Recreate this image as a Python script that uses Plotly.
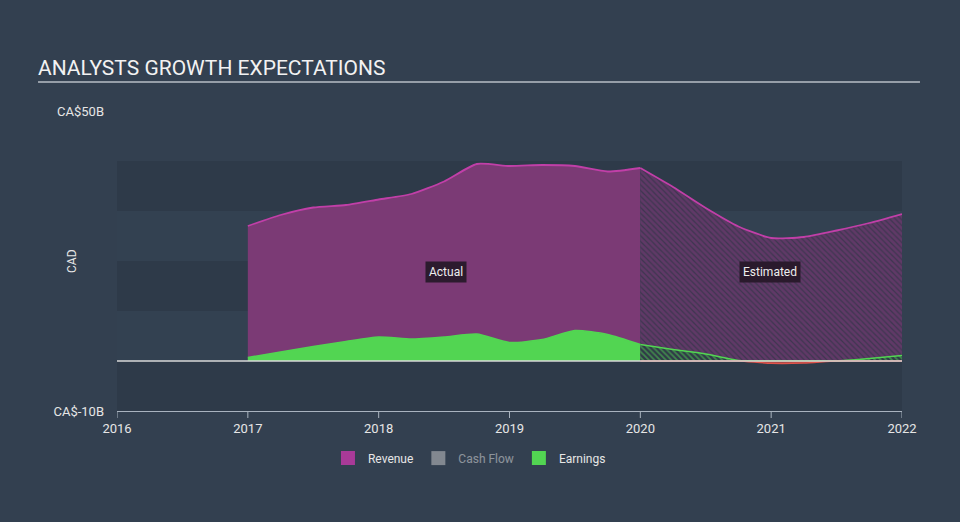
import numpy as np
import plotly.graph_objects as go

# ---------------- data (CA$ billions) ----------------
rev_act_x = [2017.0, 2017.25, 2017.5, 2017.75, 2018.0, 2018.25, 2018.5, 2018.75,
             2019.0, 2019.25, 2019.5, 2019.75, 2020.0]
rev_act_y = [27.0, 29.2, 30.7, 31.2, 32.3, 33.4, 35.9, 39.4,
             39.0, 39.2, 39.0, 37.9, 38.6]

rev_est_x = [2020.0, 2020.25, 2020.5, 2020.75, 2021.0, 2021.25, 2021.5, 2021.75, 2022.0]
rev_est_y = [38.6, 34.8, 30.6, 26.9, 24.6, 24.8, 26.1, 27.6, 29.4]

earn_act_x = rev_act_x
earn_act_y = [0.7, 1.8, 2.9, 3.9, 4.8, 4.4, 4.8, 5.4,
              3.7, 4.3, 6.1, 5.3, 3.3]

earn_est_x = rev_est_x
earn_est_y = [3.3, 2.3, 1.4, 0.1, -0.45, -0.4, 0.0, 0.5, 1.1]

x_ticks = [2016, 2017, 2018, 2019, 2020, 2021, 2022]
y_tickvals = [-10, 50]
y_ticktext = ["CA$-10B", "CA$50B"]

# ---------------- styling ----------------
BG = "#334050"
BAND_DARK = "#2e3a49"
BAND_LIGHT = "#334151"
REV_FILL = "#7b3a75"
REV_LINE = "#c13fa8"
EARN = "#52d552"
NEG = "#e0524a"
TXT = "#e6e6e6"
AXIS = "#a9b3bf"
FONT = "Roboto"

fig = go.Figure()

# Revenue actual
fig.add_trace(go.Scatter(x=rev_act_x, y=rev_act_y, mode="lines", line=dict(color=REV_LINE, width=1.8, shape="spline", smoothing=0.6),
                         fill="tozeroy", fillcolor=REV_FILL, showlegend=False, hoverinfo="skip"))
# Revenue estimated (hatched)
fig.add_trace(go.Scatter(x=rev_est_x, y=rev_est_y, mode="lines", line=dict(color=REV_LINE, width=1.8, shape="spline", smoothing=0.6),
                         fill="tozeroy", fillcolor="rgba(0,0,0,0)",
                         fillpattern=dict(shape="\\", fgcolor="#823c7e", bgcolor="#3e3650", size=4, solidity=0.7),
                         showlegend=False, hoverinfo="skip"))
# Earnings actual
fig.add_trace(go.Scatter(x=earn_act_x, y=earn_act_y, mode="lines", line=dict(color=EARN, width=1.5, shape="spline", smoothing=0.6),
                         fill="tozeroy", fillcolor=EARN, showlegend=False, hoverinfo="skip"))
# Earnings estimated: positive part (hatched green) and negative part (red)
earn_pos = np.clip(np.array(earn_est_y), 0, None)
earn_neg = np.clip(np.array(earn_est_y), None, 0)
fig.add_trace(go.Scatter(x=earn_est_x, y=earn_pos, mode="lines", line=dict(color=EARN, width=1.5, shape="spline", smoothing=0.6),
                         fill="tozeroy", fillcolor="rgba(0,0,0,0)",
                         fillpattern=dict(shape="\\", fgcolor=EARN, bgcolor="#2f3a47", size=4, solidity=0.45),
                         showlegend=False, hoverinfo="skip"))
fig.add_trace(go.Scatter(x=earn_est_x, y=earn_neg, mode="lines", line=dict(color=NEG, width=1.5, shape="spline", smoothing=0.6),
                         fill="tozeroy", fillcolor="rgba(224,82,74,0.6)", showlegend=False, hoverinfo="skip"))

# Legend entries
fig.add_trace(go.Scatter(x=[None], y=[None], mode="markers", name="Revenue",
                         marker=dict(symbol="square", size=14, color="#a93a98")))
fig.add_trace(go.Scatter(x=[None], y=[None], mode="markers", name="Cash Flow", visible="legendonly",
                         marker=dict(symbol="square", size=14, color="#d0d0d0")))
fig.add_trace(go.Scatter(x=[None], y=[None], mode="markers", name="Earnings",
                         marker=dict(symbol="square", size=14, color=EARN)))

shapes = []
bands = [(-10, 0, BAND_DARK), (0, 10, BAND_LIGHT), (10, 20, BAND_DARK), (20, 30, BAND_LIGHT), (30, 40, BAND_DARK)]
for y0, y1, c in bands:
    shapes.append(dict(type="rect", xref="x", yref="y", x0=x_ticks[0], x1=x_ticks[-1], y0=y0, y1=y1,
                       fillcolor=c, line=dict(width=0), layer="below"))
shapes.append(dict(type="line", xref="x", yref="y", x0=x_ticks[0], x1=x_ticks[-1], y0=0, y1=0,
                   line=dict(color="#d8d8d8", width=1.5), layer="above"))
# x tick marks (below the axis line)
for t in x_ticks:
    shapes.append(dict(type="line", xref="x", yref="paper", x0=t, x1=t, y0=0, y1=-7 / 300,
                       line=dict(color=AXIS, width=1)))
# title underline
shapes.append(dict(type="line", xref="paper", yref="paper", x0=-0.1006, x1=1.0229, y0=1.0967, y1=1.0967,
                   line=dict(color="#b8bec6", width=1.5)))

annotations = [
    dict(text="ANALYSTS GROWTH EXPECTATIONS", xref="paper", yref="paper", x=-0.1032, y=1.145,
         xanchor="left", yanchor="middle", showarrow=False, font=dict(family=FONT, size=21, color="#f2f2f2")),
    dict(text="CAD", xref="paper", yref="paper", x=(72 - 117) / 785, y=0.5, textangle=-90,
         xanchor="center", yanchor="middle", showarrow=False, font=dict(family=FONT, size=12, color=TXT)),
    dict(text="Actual", x=2018.515, y=17.8, xref="x", yref="y", showarrow=False,
         font=dict(family=FONT, size=12, color="#eeeeee"), bgcolor="#2c1b2e", borderpad=3),
    dict(text="Estimated", x=2020.99, y=17.8, xref="x", yref="y", showarrow=False,
         font=dict(family=FONT, size=12, color="#eeeeee"), bgcolor="#2a1a2c", borderpad=3),
]

fig.update_layout(
    width=960, height=522,
    margin=dict(l=117, r=58, t=111, b=111),
    paper_bgcolor=BG, plot_bgcolor=BG,
    font=dict(family=FONT, size=12, color=TXT),
    shapes=shapes, annotations=annotations,
    legend=dict(orientation="h", x=0.449, xanchor="center", y=-0.157, yanchor="middle",
                font=dict(family=FONT, size=12, color=TXT), bgcolor="rgba(0,0,0,0)"),
    xaxis=dict(range=[x_ticks[0], x_ticks[-1]], tickvals=x_ticks, ticktext=[str(t) for t in x_ticks],
               showgrid=False, zeroline=False, showline=True, linecolor=AXIS, linewidth=1,
               ticks="", ticklabelstandoff=5, tickfont=dict(size=13, color=TXT)),
    yaxis=dict(range=[-10, 50], tickvals=y_tickvals, ticktext=y_ticktext, showgrid=False, zeroline=False,
               showline=False, ticks="", ticklabelstandoff=12, tickfont=dict(size=13, color=TXT)),
    hovermode=False,
)

fig.write_html("out.html")
